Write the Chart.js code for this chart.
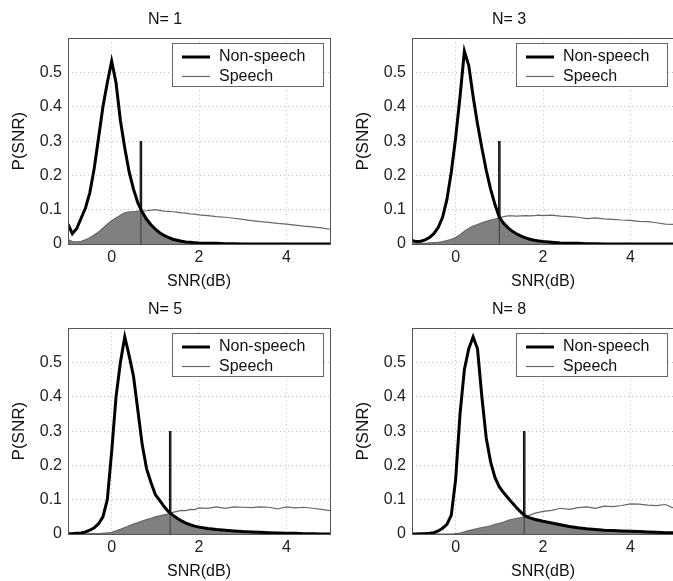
<!DOCTYPE html>
<html>
<head>
<meta charset="utf-8">
<script src="https://cdn.jsdelivr.net/npm/chart.js@4/dist/chart.umd.min.js"></script>
<style>
  html, body { margin: 0; padding: 0; background: #fff; overflow: hidden; }
  #wrap { position: relative; width: 673px; height: 581px; overflow: hidden; }
  canvas { position: absolute; }
</style>
</head>
<body>
<div id="wrap">
  <canvas id="c1" width="336" height="290" style="left:0;top:0"></canvas>
  <canvas id="c2" width="336" height="290" style="left:344px;top:0"></canvas>
  <canvas id="c3" width="336" height="290" style="left:0;top:290px"></canvas>
  <canvas id="c4" width="336" height="290" style="left:344px;top:290px"></canvas>
</div>
<script>
// SNR grid (dB), shared by all panels
const snr = [-1.0,-0.9,-0.8,-0.7,-0.6,-0.5,-0.4,-0.3,-0.2,-0.1,0.0,0.1,0.2,0.3,0.4,0.5,0.6,0.7,0.8,0.9,
             1.0,1.1,1.2,1.3,1.4,1.5,1.6,1.7,1.8,1.9,2.0,2.2,2.4,2.6,2.8,3.0,3.2,3.4,3.6,3.8,
             4.0,4.2,4.4,4.6,4.8,5.0];

const titles = ["N= 1", "N= 3", "N= 5", "N= 8"];
const thresholds = [0.67, 1.0, 1.34, 1.57];
const thresholdTop = 0.3;

const xTicks = [0, 2, 4];
const yTicks = [0, 0.1, 0.2, 0.3, 0.4, 0.5];

// N = 1
const nonSpeech1 = [0.058,0.030,0.045,0.075,0.105,0.15,0.22,0.31,0.40,0.47,0.533,0.47,0.36,0.28,0.21,0.16,0.12,0.093,0.072,0.056,
                    0.043,0.033,0.025,0.019,0.014,0.011,0.008,0.006,0.005,0.004,0.003,0.002,0.002,0.001,0.001,0,0,0,0,0,
                    0,0,0,0,0,0];
const speech1 = [0.013,0.007,0.006,0.008,0.012,0.018,0.026,0.035,0.046,0.058,0.068,0.076,0.084,0.091,0.094,0.094,0.096,0.096,0.097,0.099,
                 0.100,0.098,0.096,0.095,0.094,0.093,0.091,0.090,0.088,0.087,0.085,0.083,0.080,0.078,0.075,0.072,0.068,0.065,0.063,0.060,
                 0.058,0.055,0.052,0.050,0.047,0.043];
// N = 3
const nonSpeech3 = [0.010,0.007,0.008,0.012,0.019,0.030,0.048,0.078,0.13,0.21,0.31,0.43,0.562,0.52,0.43,0.35,0.28,0.215,0.16,0.115,
                    0.078,0.060,0.047,0.037,0.029,0.023,0.018,0.014,0.011,0.009,0.007,0.005,0.003,0.002,0.002,0.001,0.001,0,0,0,
                    0,0,0,0,0,0];
const speech3 = [0.003,0.002,0.002,0.002,0.003,0.004,0.005,0.007,0.010,0.014,0.019,0.027,0.037,0.045,0.052,0.057,0.062,0.066,0.070,0.073,
                 0.076,0.080,0.082,0.082,0.081,0.082,0.083,0.082,0.083,0.084,0.083,0.084,0.081,0.080,0.078,0.074,0.076,0.073,0.072,0.070,
                 0.069,0.066,0.065,0.062,0.058,0.057];
// N = 5
const nonSpeech5 = [0.001,0.001,0.002,0.003,0.006,0.011,0.018,0.030,0.050,0.10,0.24,0.40,0.50,0.575,0.52,0.46,0.36,0.26,0.19,0.15,
                    0.115,0.098,0.080,0.065,0.055,0.046,0.038,0.032,0.027,0.023,0.020,0.016,0.013,0.011,0.009,0.007,0.006,0.005,0.004,0.003,
                    0.002,0.002,0.001,0.001,0,0];
const speech5 = [0,0,0,0,0,0.001,0.001,0.001,0.002,0.003,0.005,0.009,0.014,0.019,0.024,0.029,0.033,0.038,0.042,0.046,
                 0.050,0.053,0.056,0.059,0.063,0.066,0.069,0.068,0.072,0.071,0.076,0.075,0.079,0.075,0.079,0.078,0.077,0.079,0.078,0.073,
                 0.079,0.076,0.078,0.075,0.072,0.068];
// N = 8
const nonSpeech8 = [0,0,0.001,0.001,0.002,0.004,0.009,0.017,0.028,0.055,0.16,0.35,0.48,0.54,0.575,0.54,0.40,0.28,0.21,0.165,
                    0.137,0.12,0.105,0.09,0.076,0.063,0.052,0.047,0.043,0.040,0.037,0.032,0.027,0.022,0.018,0.015,0.013,0.011,0.010,0.009,
                    0.008,0.007,0.006,0.005,0.004,0.004];
const speech8 = [0,0,0,0,0,0,0,0,0,0,0.001,0.003,0.006,0.010,0.013,0.016,0.019,0.021,0.024,0.028,
                 0.031,0.035,0.040,0.043,0.046,0.048,0.052,0.055,0.060,0.063,0.066,0.069,0.075,0.072,0.077,0.079,0.075,0.081,0.080,0.083,
                 0.088,0.087,0.084,0.083,0.086,0.075];

const nonSpeech = [nonSpeech1, nonSpeech3, nonSpeech5, nonSpeech8];
const speech = [speech1, speech3, speech5, speech8];

Chart.defaults.font.family = "'Liberation Sans', Arial, Helvetica, sans-serif";
Chart.defaults.color = "#222";

// axes box + legend, drawn like the matlab figure
const boxLegend = {
    id: "boxLegend",
    afterDatasetsDraw(chart) {
        const { ctx, chartArea: a } = chart;
        ctx.save();
        ctx.strokeStyle = "#555";
        ctx.lineWidth = 1;
        ctx.strokeRect(Math.round(a.left) + 0.5, Math.round(a.top) + 0.5,
                       Math.round(a.right - a.left), Math.round(a.bottom - a.top));

        const lx = Math.round(a.left) + 104, ly = Math.round(a.top) + 5;
        ctx.fillStyle = "#fff";
        ctx.fillRect(lx, ly, 151, 43);
        ctx.strokeStyle = "#666";
        ctx.strokeRect(lx + 0.5, ly + 0.5, 151, 43);

        const items = chart.data.datasets.filter(d => d.inLegend);
        ctx.font = "16px 'Liberation Sans', Arial, sans-serif";
        ctx.textBaseline = "middle";
        items.forEach((d, i) => {
            const y = ly + 14 + i * 19.5;
            ctx.strokeStyle = d.borderColor;
            ctx.lineWidth = d.borderWidth;
            ctx.beginPath();
            ctx.moveTo(lx + 10, y);
            ctx.lineTo(lx + 38, y);
            ctx.stroke();
            ctx.fillStyle = "#111";
            ctx.fillText(d.label, lx + 47, y);
        });
        ctx.restore();
    }
};

function crearPanel(idx) {
    const ns = nonSpeech[idx];
    const sp = speech[idx];
    const t = thresholds[idx];

    const ctx = document.getElementById("c" + (idx + 1)).getContext("2d");

    return new Chart(ctx, {
        type: "line",
        data: {
            datasets: [
                {
                    label: "Non-speech", inLegend: true,
                    data: snr.map((x, i) => ({ x, y: ns[i] })),
                    borderColor: "#000", borderWidth: 3, order: 0
                },
                {
                    label: "Speech", inLegend: true,
                    data: snr.map((x, i) => ({ x, y: sp[i] })),
                    borderColor: "#666", borderWidth: 1.2, order: 1
                },
                {
                    label: "umbral-fino",
                    data: [{ x: t, y: 0 }, { x: t, y: thresholdTop }],
                    borderColor: "#3a3a3a", borderWidth: 1, order: 2
                },
                {
                    label: "solape",
                    data: snr.map((x, i) => ({ x, y: Math.min(ns[i], sp[i]) })),
                    borderColor: "#808080", borderWidth: 0, backgroundColor: "#808080",
                    fill: "origin", order: 3
                },
                {
                    label: "umbral",
                    data: [{ x: t, y: 0 }, { x: t, y: thresholdTop }],
                    borderColor: "#000", borderWidth: 2.5, order: 4
                }
            ]
        },
        options: {
            responsive: false,
            animation: false,
            events: [],
            elements: { point: { radius: 0 }, line: { tension: 0 } },
            layout: { padding: { right: 6 } },
            plugins: {
                legend: { display: false },
                tooltip: { enabled: false },
                title: {
                    display: true,
                    text: titles[idx],
                    color: "#111",
                    font: { size: 16, weight: "normal" },
                    padding: { top: 10, bottom: 9 }
                }
            },
            scales: {
                x: {
                    type: "linear",
                    min: -1, max: 5,
                    afterBuildTicks: s => { s.ticks = xTicks.map(v => ({ value: v })); },
                    afterFit: s => { s.height = 46; },
                    ticks: { padding: 4, font: { size: 16 }, maxRotation: 0, callback: v => String(v) },
                    grid: { color: "#bdbdbd", drawTicks: false },
                    border: { display: false, dash: [1, 3] },
                    title: {
                        display: true, text: "SNR(dB)", color: "#111",
                        font: { size: 16, lineHeight: 1 }, padding: 0
                    }
                },
                y: {
                    min: 0, max: 0.6,
                    afterBuildTicks: s => { s.ticks = yTicks.map(v => ({ value: v })); },
                    afterFit: s => { s.width = 68; },
                    ticks: { padding: 6, font: { size: 16 }, callback: v => String(v) },
                    grid: { color: "#bdbdbd", drawTicks: false },
                    border: { display: false, dash: [1, 3] },
                    title: {
                        display: true, text: "P(SNR)", color: "#111",
                        font: { size: 17 }, padding: { top: 9, bottom: 0 }
                    }
                }
            }
        },
        plugins: [boxLegend]
    });
}

document.addEventListener("DOMContentLoaded", () => {
    for (let i = 0; i < 4; i++) crearPanel(i);
});
</script>
</body>
</html>
